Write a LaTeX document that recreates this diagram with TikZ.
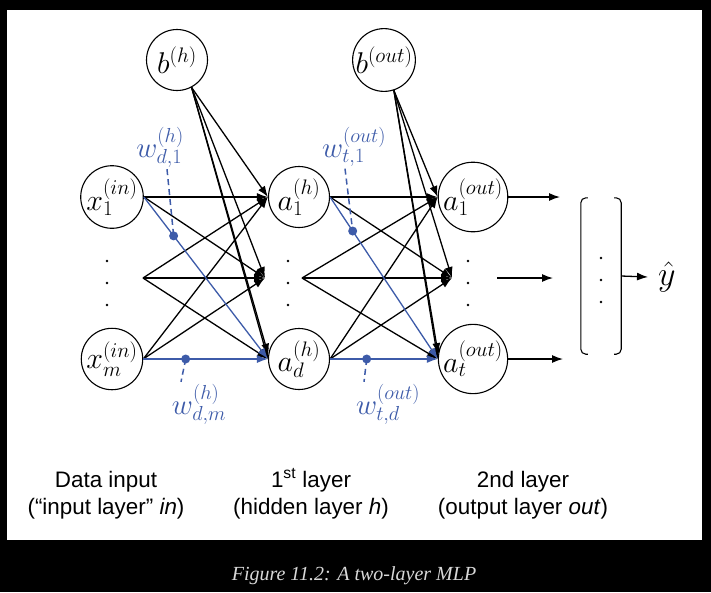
\documentclass[tikz,border=0pt]{standalone}
\usepackage{fix-cm}
\usepackage{fontspec}
\setsansfont{Liberation Sans}
\newfontfamily\capfont{Liberation Serif}
\usetikzlibrary{arrows.meta, calc}
\definecolor{WBlue}{HTML}{3D5BA9}
\definecolor{CapGray}{HTML}{D8D8D8}

\tikzset{
  neuron/.style={circle, draw, line width=1.1pt, minimum size=61pt, inner sep=0pt,
    font=\fontsize{30}{36}\selectfont},
  link/.style={->, line width=1.3pt},
  wlink/.style={link, WBlue},
  wlabel/.style={text=WBlue, inner sep=0pt, font=\fontsize{29}{34}\selectfont},
  wtick/.style={WBlue, line width=1.5pt, dash pattern=on 6pt off 4pt},
  layertext/.style={align=center, inner sep=0pt, font=\sffamily\fontsize{22.4}{27}\selectfont},
}

\begin{document}
\begin{tikzpicture}[x=1pt, y=-1pt, >={Latex[length=11pt, width=8pt]}]
  \fill[black] (0,0) rectangle (711,592);
  \fill[white] (7,10) rectangle (702,540);
  \useasboundingbox (0,0) rectangle (711,592);

  % neurons
  \node[neuron] (bh) at (177,60) {$b^{(h)}$};
  \node[neuron] (x1) at (112,197) {$x_1^{(in)}$};
  \node[neuron] (xm) at (112,359) {$x_m^{(in)}$};
  \node[neuron] (a1h) at (299,197) {$a_1^{(h)}$};
  \node[neuron] (adh) at (299,359) {$a_d^{(h)}$};
  \node[neuron] (bout) at (384,60) {$b^{(out)}$};
  \node[neuron] (a1out) at (473,197) {$a_1^{(out)}$};
  \node[neuron] (atout) at (473,359) {$a_t^{(out)}$};

  % dotted rows
  \coordinate (xdots) at (143,278);
  \coordinate (hin) at (265,278);
  \coordinate (hdots) at (302,278);
  \coordinate (outin) at (452,278);
  \foreach \x in {107, 288, 468}
    \foreach \y in {261, 283, 305}
      \fill (\x,\y) circle (1.4);

  % 1st layer
  \foreach \s in {x1.east, xdots}
    \foreach \t in {a1h.west, hin}
      \draw[link] (\s) -- (\t);
  \draw[link] (xdots) -- (adh.west);
  \draw[link] (xm.east) -- (a1h.west);
  \draw[link] (xm.east) -- (hin);
  \foreach \t in {a1h.west, hin, adh.west, adh.172}
    \draw[link] (bh.-62) -- (\t);

  % 2nd layer
  \foreach \s in {a1h.east, hdots}
    \foreach \t in {a1out.west, outin}
      \draw[link] (\s) -- (\t);
  \draw[link] (hdots) -- (atout.west);
  \draw[link] (adh.east) -- (outin);
  \draw[link] (adh.east) -- (a1out.west);
  \foreach \t in {a1out.west, outin, atout.west, atout.172}
    \draw[link] (bout.-72) -- (\t);

  % weights
  \draw[wlink] (x1.east) -- (adh.west);
  \draw[wlink] (xm.east) -- (adh.west);
  \draw[wlink] (a1h.east) -- (atout.west);
  \draw[wlink] (adh.east) -- (atout.west);
  \coordinate (wd1dot) at ($(x1.east)!0.24!(adh.west)$);
  \coordinate (wdmdot) at ($(xm.east)!0.34!(adh.west)$);
  \coordinate (wt1dot) at ($(a1h.east)!0.21!(atout.west)$);
  \coordinate (wtddot) at ($(adh.east)!0.34!(atout.west)$);
  \foreach \d in {wd1dot, wdmdot, wt1dot, wtddot}
    \fill[WBlue] (\d) circle (4.5);
  \node[wlabel] (wd1) at (160,147) {$w^{(h)}_{d,1}$};
  \node[wlabel] (wt1) at (354,147) {$w^{(out)}_{t,1}$};
  \node[wlabel] (wdm) at (199,404) {$w^{(h)}_{d,m}$};
  \node[wlabel] (wtd) at (388,404) {$w^{(out)}_{t,d}$};
  \draw[wtick] ($(wd1.south)+(7,2)$) -- (wd1dot);
  \draw[wtick] ($(wt1.south)+(-9,2)$) -- (wt1dot);
  \draw[wtick] (wdmdot) -- ($(wdm.north)+(-18,-2)$);
  \draw[wtick] (wtddot) -- ($(wtd.north)+(-24,-2)$);

  % output vector
  \coordinate (y1end) at (560,197);
  \coordinate (ymidstart) at (497,278);
  \coordinate (ymidend) at (553,278);
  \coordinate (ytend) at (563,359);
  \draw[link] (a1out.east) -- (y1end);
  \draw[link] (ymidstart) -- (ymidend);
  \draw[link] (atout.east) -- (ytend);
  \node[minimum width=40pt, minimum height=156pt, inner sep=0pt] (vec) at (601,276) {};
  \draw[line width=1.1pt, rounded corners=5pt]
    ([xshift=7pt]vec.north west) -- (vec.north west) -- (vec.south west) -- ([xshift=7pt]vec.south west);
  \draw[line width=1.1pt, rounded corners=5pt]
    ([xshift=-7pt]vec.north east) -- (vec.north east) -- (vec.south east) -- ([xshift=-7pt]vec.south east);
  \foreach \y in {258, 280, 302}
    \fill (601,\y) circle (1.4);
  \node[font=\fontsize{34}{40}\selectfont, inner xsep=10pt, inner ysep=2pt, anchor=west]
    (yhat) at (648,277) {$\hat{y}$};
  \draw[link] (vec.east) -- (yhat.west);

  % layer names
  \node[layertext, anchor=base] (inname) at (106,514) {Data input\\(“input layer” \textit{in})};
  \node[layertext, anchor=base] (hname) at (311,514) {1\textsuperscript{st} layer\\(hidden layer \textit{h})};
  \node[layertext, anchor=base] (outname) at (523,514) {2nd layer\\(output layer \textit{out})};

  \node[text=CapGray, anchor=base, inner sep=0pt, font=\capfont\itshape\fontsize{20}{24}\selectfont]
    (caption) at (354,580) {Figure 11.2: A two-layer MLP};
\end{tikzpicture}
\end{document}
